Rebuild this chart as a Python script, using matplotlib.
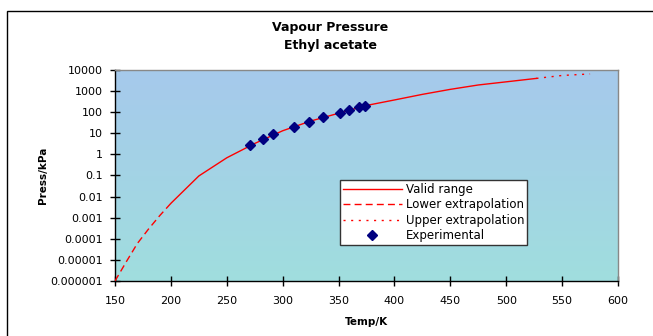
import numpy as np
import matplotlib
matplotlib.use("Agg")
import matplotlib.pyplot as plt
from matplotlib.colors import LinearSegmentedColormap
from matplotlib.patches import Rectangle

# ---- data ----
lower_T = [150, 160, 170, 180, 190, 200]
lower_P = [1.0e-6, 8.0e-6, 6.0e-5, 2.9e-4, 1.25e-3, 4.8e-3]

valid_T = [200, 225, 250, 275, 300, 325, 350, 375, 400, 425, 450, 475, 500, 527]
valid_P = [4.8e-3, 0.095, 0.69, 3.3, 13.2, 38, 89, 209, 380, 700, 1210, 1950, 2750, 4000]

upper_T = [527, 550, 575]
upper_P = [4000, 5500, 6500]

exp_T = [271.2, 282.0, 291.6, 310.1, 323.6, 336.3, 351.0, 359.3, 368.6, 373.4]
exp_P = [2.7, 5.2, 9.3, 20, 34, 59, 91, 127, 177, 203]

x_ticks = [150, 200, 250, 300, 350, 400, 450, 500, 550, 600]
y_ticks = [1e-6, 1e-5, 1e-4, 1e-3, 1e-2, 1e-1, 1, 10, 100, 1000, 10000]
y_labels = ["0.000001", "0.00001", "0.0001", "0.001", "0.01", "0.1",
            "1", "10", "100", "1000", "10000"]

title = "Vapour Pressure\nEthyl acetate"
xlabel = "Temp/K"
ylabel = "Press/kPa"

plt.rcParams['font.family'] = ['DejaVu Sans']

fig = plt.figure(figsize=(6.53, 3.36), dpi=100)
fig.patch.set_facecolor('white')

# outer chart frame (extends past right/bottom edges)
fig.patches.append(Rectangle((7 / 653, -0.05), 1.0, (336 - 11) / 336 + 0.05,
                             transform=fig.transFigure, fill=False,
                             edgecolor='black', linewidth=1.0))

ax = fig.add_axes([115 / 653, (336 - 281) / 336, (618 - 115) / 653, (281 - 70) / 336])

# gradient background
cmap = LinearSegmentedColormap.from_list('bg', ['#A0DEDE', '#A6C9EC'])
grad = np.linspace(0, 1, 256).reshape(-1, 1)
ax.imshow(grad, aspect='auto', cmap=cmap, origin='lower',
          extent=[0, 1, 0, 1], transform=ax.transAxes, zorder=0)

ax.set_yscale('log')
ax.set_xlim(150, 600)
ax.set_ylim(1e-6, 1e4)

red = '#FF0000'
ax.plot(valid_T, valid_P, color=red, lw=1.0, label='Valid range', zorder=3)
ax.plot(lower_T, lower_P, color=red, lw=1.0, dashes=(5, 3), label='Lower extrapolation', zorder=3)
ax.plot(upper_T, upper_P, color=red, lw=1.0, dashes=(1.5, 4), label='Upper extrapolation', zorder=3)
ax.plot(exp_T, exp_P, linestyle='none', marker='D', ms=5, color='#000080',
        markeredgecolor='#000080', label='Experimental', zorder=4)

ax.set_xticks(x_ticks)
ax.set_xticklabels([str(t) for t in x_ticks], fontsize=8)
ax.set_yticks(y_ticks)
ax.set_yticklabels(y_labels, fontsize=8)
ax.yaxis.set_minor_locator(matplotlib.ticker.NullLocator())
ax.tick_params(axis='both', direction='inout', length=7, width=1, color='black')
ax.tick_params(axis='y', pad=5)
ax.tick_params(axis='x', pad=7)

for s in ['left', 'bottom']:
    ax.spines[s].set_color('black')
    ax.spines[s].set_linewidth(1.0)
for s in ['top', 'right']:
    ax.spines[s].set_color('#888888')
    ax.spines[s].set_linewidth(1.0)

ax.set_xlabel(xlabel, fontsize=7.5, fontweight='bold', labelpad=8)
ax.set_ylabel(ylabel, fontsize=7.5, fontweight='bold', labelpad=2)

fig.text(330 / 653, 1 - 36 / 336, title, ha='center', va='center',
         fontsize=9, fontweight='bold', linespacing=1.5)

leg = ax.legend(loc='upper left', bbox_to_anchor=((340 - 115) / 503, (281 - 180) / 211),
                fontsize=8.5, frameon=True, fancybox=False, framealpha=1,
                edgecolor='#333333', borderpad=0.25, labelspacing=0.2,
                handlelength=5.0, handletextpad=0.3, borderaxespad=0)
leg.get_frame().set_linewidth(1.0)

fig.savefig('out.png', dpi=100)
